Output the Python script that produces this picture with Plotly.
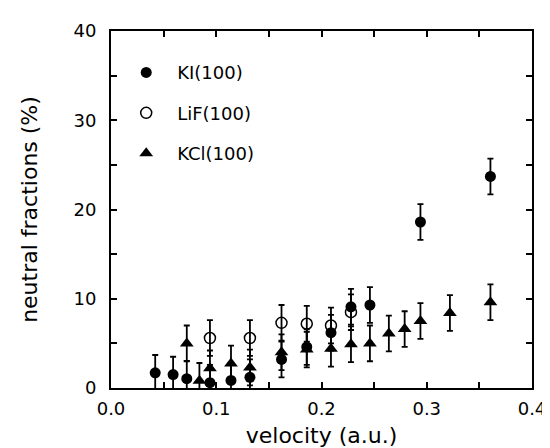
import plotly.graph_objects as go

# KI(100) - filled circles
ki_v = [0.042, 0.059, 0.072, 0.094, 0.114, 0.132, 0.162, 0.186, 0.209, 0.228, 0.246, 0.294, 0.3605]
ki_f = [1.7, 1.5, 1.05, 0.6, 0.85, 1.2, 3.2, 4.6, 6.2, 9.1, 9.3, 18.6, 23.7]
ki_err = [2.0] * len(ki_v)

# LiF(100) - open circles
lif_v = [0.094, 0.132, 0.162, 0.186, 0.209, 0.228]
lif_f = [5.6, 5.6, 7.3, 7.2, 7.0, 8.5]
lif_err = [2.0] * len(lif_v)

# KCl(100) - filled triangles
kcl_v = [0.072, 0.084, 0.094, 0.114, 0.132, 0.162, 0.186, 0.209, 0.228, 0.246, 0.264, 0.279, 0.294, 0.322, 0.3605]
kcl_f = [5.0, 0.8, 2.2, 2.75, 2.3, 4.0, 4.3, 4.4, 4.9, 5.0, 6.1, 6.6, 7.5, 8.4, 9.6]
kcl_err = [2.0] * len(kcl_v)

x_ticks = [0.0, 0.1, 0.2, 0.3, 0.4]
x_ticklabels = ["0.0", "0.1", "0.2", "0.3", "0.4"]
y_ticks = [0, 10, 20, 30, 40]
y_ticklabels = ["0", "10", "20", "30", "40"]

FONT = "DejaVu Sans"

def err(vals):
    return dict(type="data", array=vals, visible=True, color="black", thickness=1.8, width=3)

fig = go.Figure()
fig.add_trace(go.Scatter(
    x=ki_v, y=ki_f, mode="markers", name="KI(100)", legendgroup="a",
    marker=dict(symbol="circle", size=11, color="black"),
    error_y=err(ki_err), cliponaxis=False))
fig.add_trace(go.Scatter(
    x=lif_v, y=lif_f, mode="markers", name="LiF(100)", legendgroup="b",
    marker=dict(symbol="circle-open", size=11, color="black", line=dict(width=1.5, color="black")),
    error_y=err(lif_err), cliponaxis=False))
fig.add_trace(go.Scatter(
    x=kcl_v, y=kcl_f, mode="markers", name="KCl(100)", legendgroup="c",
    marker=dict(symbol="triangle-up", size=12, color="black"),
    error_y=err(kcl_err), cliponaxis=False))

axis_common = dict(showline=True, linecolor="black", linewidth=2, mirror="ticks",
                   ticks="inside", ticklen=6, tickwidth=1.5, tickcolor="black",
                   showgrid=False, zeroline=False,
                   tickfont=dict(family=FONT, size=18, color="black"))

fig.update_xaxes(range=[0, 0.4], tickvals=x_ticks, ticktext=x_ticklabels,
                 ticklabelstandoff=3,
                 minor=dict(dtick=0.05, ticks="inside", ticklen=6, tickwidth=1.5, tickcolor="black"),
                 title=dict(text="velocity (a.u.)", font=dict(family=FONT, size=22, color="black"), standoff=10),
                 **axis_common)
fig.update_yaxes(range=[0, 40], tickvals=y_ticks, ticktext=y_ticklabels,
                 ticklabelstandoff=9,
                 minor=dict(dtick=5, ticks="inside", ticklen=6, tickwidth=1.5, tickcolor="black"),
                 title=dict(text="neutral fractions (%)", font=dict(family=FONT, size=22, color="black"), standoff=30),
                 **axis_common)

fig.update_layout(
    width=550, height=448,
    margin=dict(l=103, r=15, t=17, b=59),
    paper_bgcolor="white", plot_bgcolor="white",
    showlegend=True,
    legend=dict(x=0.01, y=0.935, xanchor="left", yanchor="top",
                font=dict(family=FONT, size=18, color="black"),
                itemwidth=52,
                bgcolor="rgba(0,0,0,0)", tracegroupgap=14),
)

fig.write_html("out.html")
